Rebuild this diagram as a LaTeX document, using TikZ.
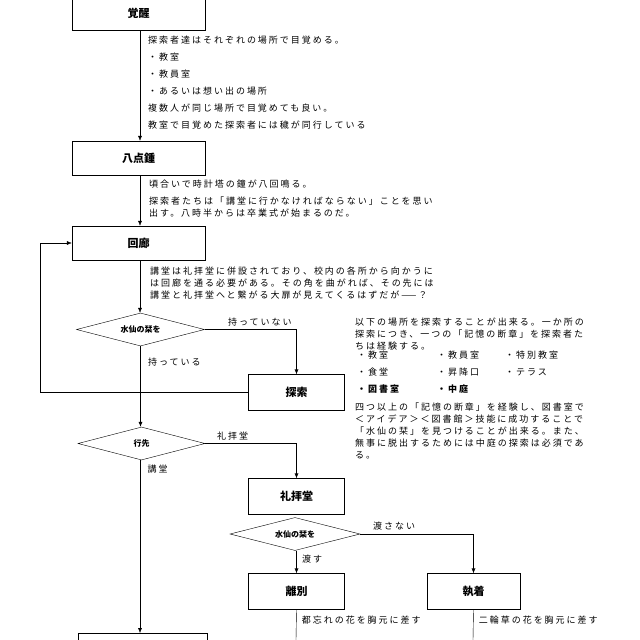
\documentclass[tikz,border=0pt]{standalone}
\usepackage{fontspec}
\newfontfamily\jp{Noto Sans CJK JP}
\newfontfamily\jpw[LetterSpace=22]{Noto Sans CJK JP}
\usetikzlibrary{shapes.geometric,arrows.meta}
\begin{document}
\begin{tikzpicture}[x=1pt,y=-1pt,font=\jpw\fontsize{9}{12}\selectfont,
    box/.style={draw,minimum width=133pt,minimum height=34pt,font=\jp\bfseries\fontsize{11}{13}\selectfont},
    sbox/.style={draw,minimum width=96pt,minimum height=36pt,font=\jp\bfseries\fontsize{11}{13}\selectfont},
    dec/.style={draw,diamond,aspect=4,inner sep=0pt,minimum width=128pt,minimum height=33pt,font=\jp\bfseries\fontsize{8}{10}\selectfont},
    note/.style={align=left,anchor=north west,inner sep=0pt},
    arr/.style={-{Latex[length=5pt,width=4pt]}}]
    \useasboundingbox (0,0) rectangle (640,640);
    % boxes on the main line
    \node[box] (wake) at (138.5,13) {覚醒};
    \node[box] (bell) at (138.5,158) {八点鍾};
    \node[box] (hall) at (138.5,243) {回廊};
    \node[dec] (has) at (140.5,329.5) {水仙の栞を};
    \node[sbox] (search) at (296.5,392.5) {探索};
    \node[dec,minimum width=127pt] (dest) at (141.5,443.5) {行先};
    \node[sbox] (chapel) at (296.5,496.5) {礼拝堂};
    \node[dec,minimum width=130pt] (give) at (295,534) {水仙の栞を};
    \node[sbox] (part) at (296.5,591.5) {離別};
    \node[sbox,minimum width=93pt] (cling) at (473.5,591.5) {執着};
    \draw (78,633) rectangle (207,660);
    \coordinate (aud) at (140,633);
    \coordinate (endA) at (296,640);
    \coordinate (endB) at (473,640);
    % connectors
    \draw[arr] (wake.south -| 140,0) -- (bell.north -| 140,0);
    \draw[arr] (bell.south -| 140,0) -- (hall.north -| 140,0);
    \draw[arr] (hall.south -| 140,0) -- (has.north -| 140,0);
    \draw[arr] (has.east) -| node[pos=0.3,above] {持っていない} (search.north);
    \draw[arr] (has.south) -- node[pos=0.2,right=4pt] {持っている} (dest.north -| has.south);
    \draw[arr] (search.west) -- (40,392.5) |- (hall.west);
    \draw[arr] (dest.east) -| node[pos=0.15,above] {礼拝堂} (chapel.north);
    \draw[arr] (dest.south -| 140,0) -- node[pos=0.05,right=4pt] {講堂} (aud);
    \draw[arr] (give.east) -| node[pos=0.15,above] {渡さない} (cling.north);
    \draw[arr] (give.south -| part.north) -- node[pos=0.35,right=2pt] {渡す} (part.north);
    \draw (part.south) -- node[pos=0.35,right=2pt] {都忘れの花を胸元に差す} (endA);
    \draw (cling.south) -- node[pos=0.35,right=2pt] {二輪草の花を胸元に差す} (endB);
    % notes
    \node[note] (n1) at (148,36) {探索者達はそれぞれの場所で目覚める。\\[5pt]・教室\\[5pt]・教員室\\[5pt]・あるいは想い出の場所\\[5pt]複数人が同じ場所で目覚めても良い。\\[5pt]教室で目覚めた探索者には穢が同行している};
    \node[note] (n2) at (149,180) {頃合いで時計塔の鐘が八回鳴る。\\[5pt]探索者たちは「講堂に行かなければならない」ことを思い\\出す。八時半からは卒業式が始まるのだ。};
    \node[note] (n3) at (150,267) {講堂は礼拝堂に併設されており、校内の各所から向かうに\\は回廊を通る必要がある。その角を曲がれば、その先には\\講堂と礼拝堂へと繋がる大扉が見えてくるはずだが——？};
    \node[note] (n4) at (355,318) {以下の場所を探索することが出来る。一か所の\\探索につき、一つの「記憶の断章」を探索者た\\ちは経験する。};
    \node[note] (n5) at (357,351) {・教室\\[5pt]・食堂\\[5pt]\textbf{・図書室}};
    \node[note] (n6) at (437,351) {・教員室\\[5pt]・昇降口\\[5pt]\textbf{・中庭}};
    \node[note] (n7) at (505,351) {・特別教室\\[5pt]・テラス};
    \node[note] (n8) at (355,403) {四つ以上の「記憶の断章」を経験し、図書室で\\＜アイデア＞＜図書館＞技能に成功することで\\「水仙の栞」を見つけることが出来る。また、\\無事に脱出するためには中庭の探索は必須であ\\る。};
\end{tikzpicture}
\end{document}
